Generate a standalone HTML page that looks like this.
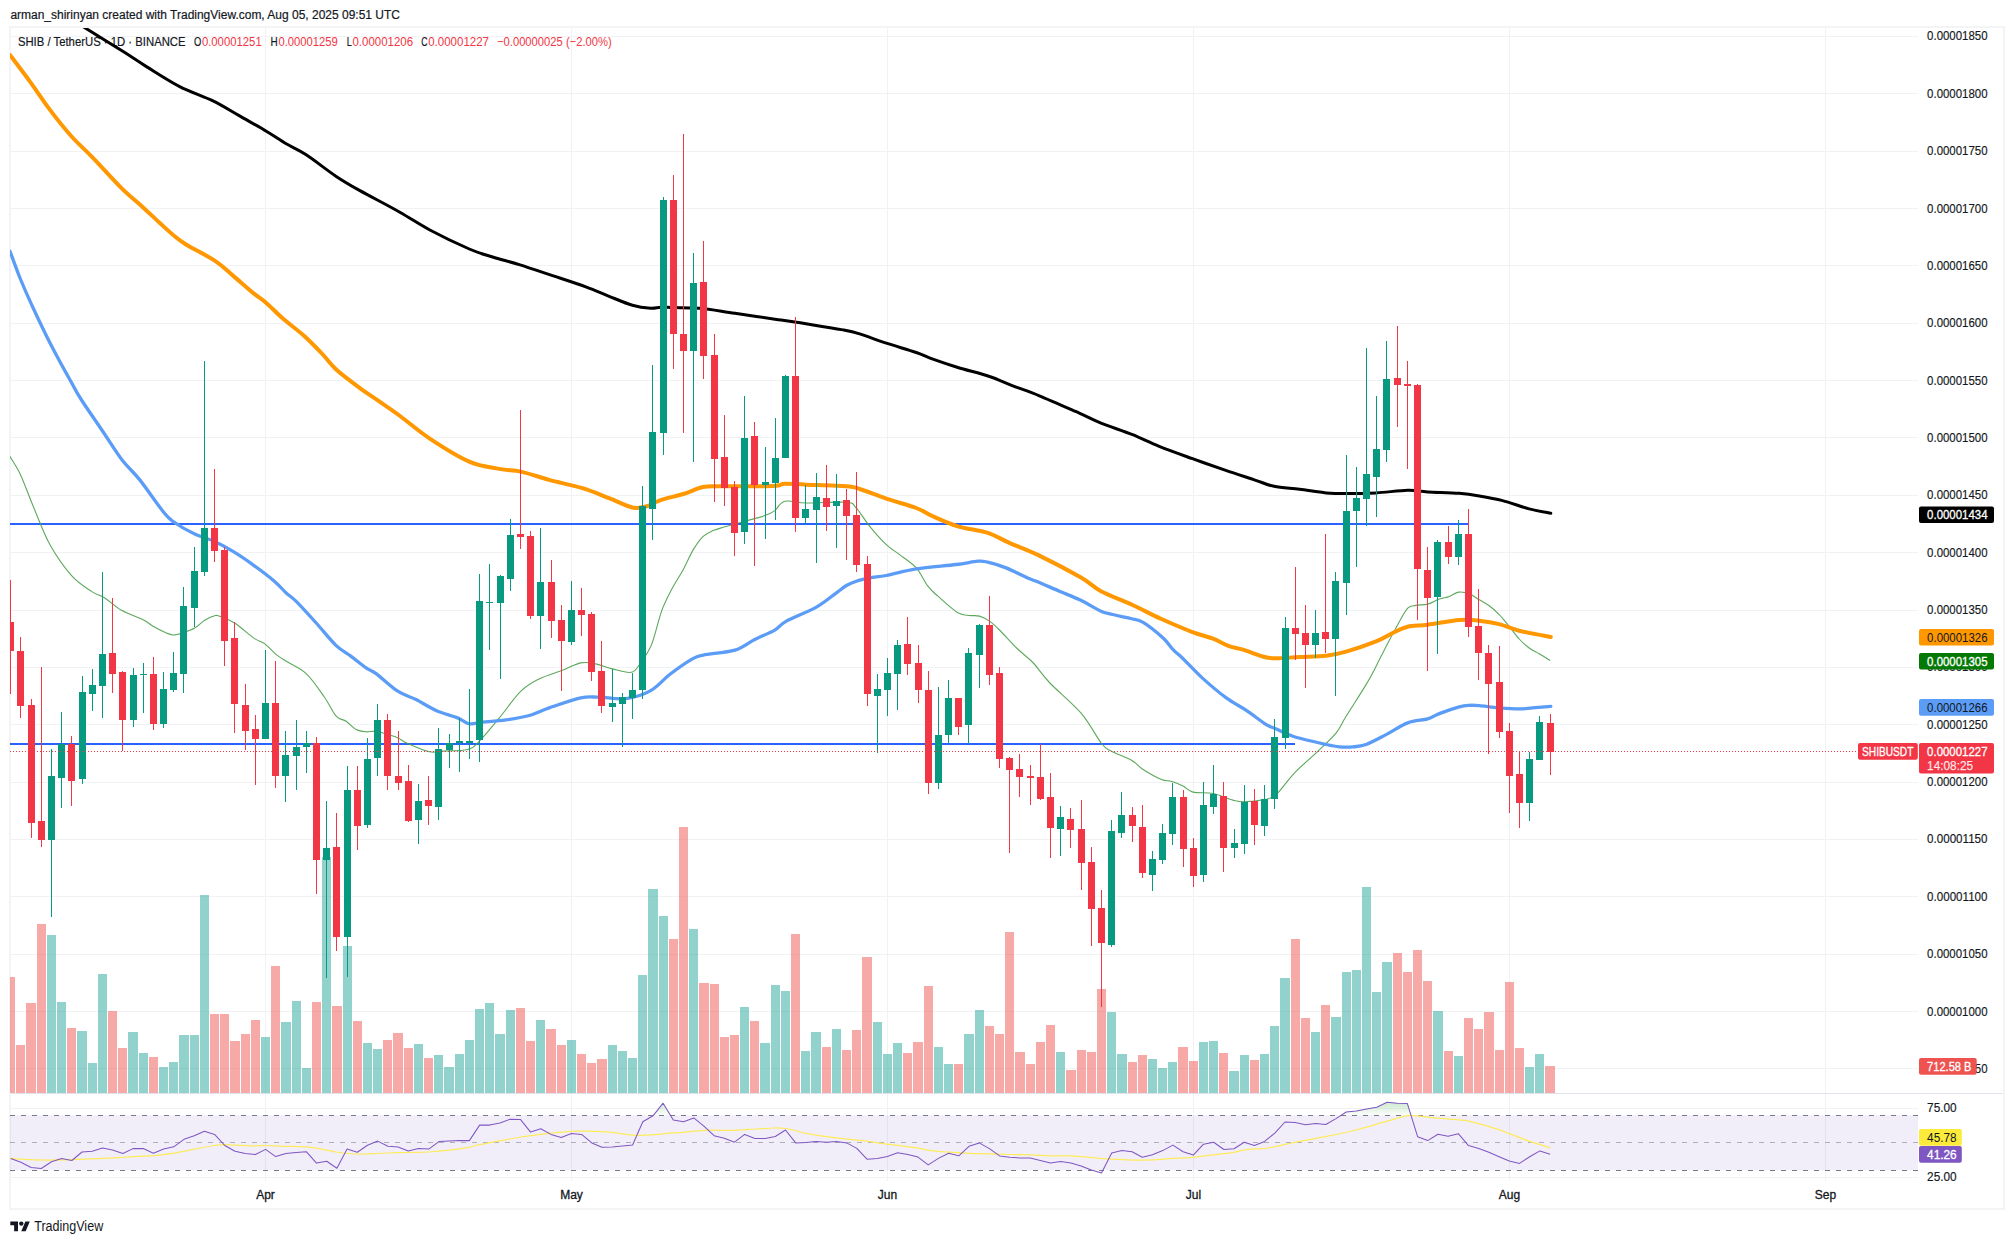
<!DOCTYPE html>
<html><head><meta charset="utf-8"><title>SHIBUSDT chart</title>
<style>html,body{margin:0;padding:0;background:#fff;}body{width:2014px;height:1244px;overflow:hidden;font-family:"Liberation Sans", Arial, sans-serif;}svg{display:block}</style>
</head><body>
<svg width="2014" height="1244" viewBox="0 0 2014 1244" font-family='"Liberation Sans", Arial, sans-serif'>
<rect width="2014" height="1244" fill="#fff"/>
<defs><clipPath id="plot"><rect x="10" y="28" width="1908" height="1065"/></clipPath><linearGradient id="gf" x1="0" y1="1101" x2="0" y2="1115.3" gradientUnits="userSpaceOnUse"><stop offset="0" stop-color="#4caf50" stop-opacity="0.3"/><stop offset="1" stop-color="#4caf50" stop-opacity="0.02"/></linearGradient><clipPath id="rsi"><rect x="10" y="1094" width="1908" height="86"/></clipPath></defs>
<g shape-rendering="crispEdges" fill="#f1f2f4">
<rect x="10" y="36" width="1908" height="1"/>
<rect x="10" y="93" width="1908" height="1"/>
<rect x="10" y="151" width="1908" height="1"/>
<rect x="10" y="208" width="1908" height="1"/>
<rect x="10" y="265" width="1908" height="1"/>
<rect x="10" y="323" width="1908" height="1"/>
<rect x="10" y="380" width="1908" height="1"/>
<rect x="10" y="437" width="1908" height="1"/>
<rect x="10" y="495" width="1908" height="1"/>
<rect x="10" y="552" width="1908" height="1"/>
<rect x="10" y="610" width="1908" height="1"/>
<rect x="10" y="667" width="1908" height="1"/>
<rect x="10" y="724" width="1908" height="1"/>
<rect x="10" y="782" width="1908" height="1"/>
<rect x="10" y="839" width="1908" height="1"/>
<rect x="10" y="896" width="1908" height="1"/>
<rect x="10" y="954" width="1908" height="1"/>
<rect x="10" y="1011" width="1908" height="1"/>
<rect x="10" y="1068" width="1908" height="1"/>
<rect x="10" y="1108" width="1908" height="1"/>
<rect x="10" y="1177" width="1908" height="1"/>
<rect x="265" y="27" width="1" height="1154"/>
<rect x="571" y="27" width="1" height="1154"/>
<rect x="887" y="27" width="1" height="1154"/>
<rect x="1193" y="27" width="1" height="1154"/>
<rect x="1509" y="27" width="1" height="1154"/>
<rect x="1825" y="27" width="1" height="1154"/>
</g>
<g shape-rendering="crispEdges" fill="#f3f4f5">
<rect x="9" y="26" width="1996" height="2"/>
<rect x="9" y="1208" width="1996" height="2"/>
<rect x="9" y="26" width="2" height="1184"/>
<rect x="2003" y="26" width="2" height="1184"/>
<rect x="11" y="1093" width="1992" height="1" fill="#e0e3eb"/>
</g>
<rect x="10" y="1115.3" width="1908" height="55" fill="#7e57c2" fill-opacity="0.1"/>
<g fill="none" stroke-width="1">
<path d="M10 1115.5H1918" stroke="#787b86" stroke-dasharray="5 6"/>
<path d="M10 1142.5H1918" stroke="#787b86" stroke-opacity="0.55" stroke-dasharray="5 6"/>
<path d="M10 1170.5H1918" stroke="#787b86" stroke-dasharray="5 6"/>
</g>
<g shape-rendering="crispEdges" clip-path="url(#plot)">
<rect x="6" y="977" width="9" height="116" fill="#ef5350" fill-opacity="0.5"/>
<rect x="16" y="1045" width="9" height="48" fill="#ef5350" fill-opacity="0.5"/>
<rect x="26" y="1003" width="10" height="90" fill="#ef5350" fill-opacity="0.5"/>
<rect x="37" y="924" width="9" height="169" fill="#ef5350" fill-opacity="0.5"/>
<rect x="47" y="935" width="9" height="158" fill="#26a69a" fill-opacity="0.5"/>
<rect x="57" y="1002" width="9" height="91" fill="#26a69a" fill-opacity="0.5"/>
<rect x="67" y="1028" width="9" height="65" fill="#ef5350" fill-opacity="0.5"/>
<rect x="77" y="1031" width="10" height="62" fill="#26a69a" fill-opacity="0.5"/>
<rect x="88" y="1063" width="9" height="30" fill="#26a69a" fill-opacity="0.5"/>
<rect x="98" y="974" width="9" height="119" fill="#26a69a" fill-opacity="0.5"/>
<rect x="108" y="1011" width="9" height="82" fill="#ef5350" fill-opacity="0.5"/>
<rect x="118" y="1048" width="9" height="45" fill="#ef5350" fill-opacity="0.5"/>
<rect x="128" y="1032" width="10" height="61" fill="#26a69a" fill-opacity="0.5"/>
<rect x="139" y="1053" width="9" height="40" fill="#26a69a" fill-opacity="0.5"/>
<rect x="149" y="1057" width="9" height="36" fill="#ef5350" fill-opacity="0.5"/>
<rect x="159" y="1067" width="9" height="26" fill="#26a69a" fill-opacity="0.5"/>
<rect x="169" y="1062" width="9" height="31" fill="#26a69a" fill-opacity="0.5"/>
<rect x="179" y="1035" width="10" height="58" fill="#26a69a" fill-opacity="0.5"/>
<rect x="190" y="1035" width="9" height="58" fill="#26a69a" fill-opacity="0.5"/>
<rect x="200" y="895" width="9" height="198" fill="#26a69a" fill-opacity="0.5"/>
<rect x="210" y="1014" width="9" height="79" fill="#ef5350" fill-opacity="0.5"/>
<rect x="220" y="1014" width="9" height="79" fill="#ef5350" fill-opacity="0.5"/>
<rect x="230" y="1041" width="10" height="52" fill="#ef5350" fill-opacity="0.5"/>
<rect x="241" y="1034" width="9" height="59" fill="#ef5350" fill-opacity="0.5"/>
<rect x="251" y="1020" width="9" height="73" fill="#ef5350" fill-opacity="0.5"/>
<rect x="261" y="1037" width="9" height="56" fill="#26a69a" fill-opacity="0.5"/>
<rect x="271" y="966" width="9" height="127" fill="#ef5350" fill-opacity="0.5"/>
<rect x="281" y="1022" width="10" height="71" fill="#26a69a" fill-opacity="0.5"/>
<rect x="292" y="1001" width="9" height="92" fill="#26a69a" fill-opacity="0.5"/>
<rect x="302" y="1068" width="9" height="25" fill="#26a69a" fill-opacity="0.5"/>
<rect x="312" y="1002" width="9" height="91" fill="#ef5350" fill-opacity="0.5"/>
<rect x="322" y="857" width="9" height="236" fill="#26a69a" fill-opacity="0.5"/>
<rect x="332" y="1006" width="10" height="87" fill="#ef5350" fill-opacity="0.5"/>
<rect x="343" y="946" width="9" height="147" fill="#26a69a" fill-opacity="0.5"/>
<rect x="353" y="1021" width="9" height="72" fill="#ef5350" fill-opacity="0.5"/>
<rect x="363" y="1043" width="9" height="50" fill="#26a69a" fill-opacity="0.5"/>
<rect x="373" y="1049" width="9" height="44" fill="#26a69a" fill-opacity="0.5"/>
<rect x="383" y="1040" width="9" height="53" fill="#ef5350" fill-opacity="0.5"/>
<rect x="393" y="1033" width="10" height="60" fill="#ef5350" fill-opacity="0.5"/>
<rect x="404" y="1048" width="9" height="45" fill="#ef5350" fill-opacity="0.5"/>
<rect x="414" y="1044" width="9" height="49" fill="#26a69a" fill-opacity="0.5"/>
<rect x="424" y="1058" width="9" height="35" fill="#ef5350" fill-opacity="0.5"/>
<rect x="434" y="1055" width="9" height="38" fill="#26a69a" fill-opacity="0.5"/>
<rect x="444" y="1067" width="10" height="26" fill="#26a69a" fill-opacity="0.5"/>
<rect x="455" y="1054" width="9" height="39" fill="#26a69a" fill-opacity="0.5"/>
<rect x="465" y="1040" width="9" height="53" fill="#26a69a" fill-opacity="0.5"/>
<rect x="475" y="1009" width="9" height="84" fill="#26a69a" fill-opacity="0.5"/>
<rect x="485" y="1003" width="9" height="90" fill="#26a69a" fill-opacity="0.5"/>
<rect x="495" y="1034" width="10" height="59" fill="#26a69a" fill-opacity="0.5"/>
<rect x="506" y="1010" width="9" height="83" fill="#26a69a" fill-opacity="0.5"/>
<rect x="516" y="1008" width="9" height="85" fill="#ef5350" fill-opacity="0.5"/>
<rect x="526" y="1041" width="9" height="52" fill="#ef5350" fill-opacity="0.5"/>
<rect x="536" y="1020" width="9" height="73" fill="#26a69a" fill-opacity="0.5"/>
<rect x="546" y="1029" width="10" height="64" fill="#ef5350" fill-opacity="0.5"/>
<rect x="557" y="1045" width="9" height="48" fill="#ef5350" fill-opacity="0.5"/>
<rect x="567" y="1040" width="9" height="53" fill="#26a69a" fill-opacity="0.5"/>
<rect x="577" y="1054" width="9" height="39" fill="#ef5350" fill-opacity="0.5"/>
<rect x="587" y="1063" width="9" height="30" fill="#ef5350" fill-opacity="0.5"/>
<rect x="597" y="1059" width="10" height="34" fill="#ef5350" fill-opacity="0.5"/>
<rect x="608" y="1045" width="9" height="48" fill="#26a69a" fill-opacity="0.5"/>
<rect x="618" y="1051" width="9" height="42" fill="#26a69a" fill-opacity="0.5"/>
<rect x="628" y="1058" width="9" height="35" fill="#26a69a" fill-opacity="0.5"/>
<rect x="638" y="975" width="9" height="118" fill="#26a69a" fill-opacity="0.5"/>
<rect x="648" y="889" width="10" height="204" fill="#26a69a" fill-opacity="0.5"/>
<rect x="659" y="916" width="9" height="177" fill="#26a69a" fill-opacity="0.5"/>
<rect x="669" y="939" width="9" height="154" fill="#ef5350" fill-opacity="0.5"/>
<rect x="679" y="827" width="9" height="266" fill="#ef5350" fill-opacity="0.5"/>
<rect x="689" y="929" width="9" height="164" fill="#26a69a" fill-opacity="0.5"/>
<rect x="699" y="983" width="10" height="110" fill="#ef5350" fill-opacity="0.5"/>
<rect x="710" y="984" width="9" height="109" fill="#ef5350" fill-opacity="0.5"/>
<rect x="720" y="1037" width="9" height="56" fill="#ef5350" fill-opacity="0.5"/>
<rect x="730" y="1035" width="9" height="58" fill="#ef5350" fill-opacity="0.5"/>
<rect x="740" y="1007" width="9" height="86" fill="#26a69a" fill-opacity="0.5"/>
<rect x="750" y="1021" width="9" height="72" fill="#ef5350" fill-opacity="0.5"/>
<rect x="760" y="1043" width="10" height="50" fill="#26a69a" fill-opacity="0.5"/>
<rect x="771" y="985" width="9" height="108" fill="#26a69a" fill-opacity="0.5"/>
<rect x="781" y="991" width="9" height="102" fill="#26a69a" fill-opacity="0.5"/>
<rect x="791" y="934" width="9" height="159" fill="#ef5350" fill-opacity="0.5"/>
<rect x="801" y="1051" width="9" height="42" fill="#26a69a" fill-opacity="0.5"/>
<rect x="811" y="1032" width="10" height="61" fill="#26a69a" fill-opacity="0.5"/>
<rect x="822" y="1047" width="9" height="46" fill="#ef5350" fill-opacity="0.5"/>
<rect x="832" y="1029" width="9" height="64" fill="#26a69a" fill-opacity="0.5"/>
<rect x="842" y="1050" width="9" height="43" fill="#ef5350" fill-opacity="0.5"/>
<rect x="852" y="1030" width="9" height="63" fill="#ef5350" fill-opacity="0.5"/>
<rect x="862" y="957" width="10" height="136" fill="#ef5350" fill-opacity="0.5"/>
<rect x="873" y="1022" width="9" height="71" fill="#26a69a" fill-opacity="0.5"/>
<rect x="883" y="1054" width="9" height="39" fill="#26a69a" fill-opacity="0.5"/>
<rect x="893" y="1043" width="9" height="50" fill="#26a69a" fill-opacity="0.5"/>
<rect x="903" y="1053" width="9" height="40" fill="#ef5350" fill-opacity="0.5"/>
<rect x="913" y="1042" width="10" height="51" fill="#ef5350" fill-opacity="0.5"/>
<rect x="924" y="986" width="9" height="107" fill="#ef5350" fill-opacity="0.5"/>
<rect x="934" y="1047" width="9" height="46" fill="#26a69a" fill-opacity="0.5"/>
<rect x="944" y="1064" width="9" height="29" fill="#26a69a" fill-opacity="0.5"/>
<rect x="954" y="1064" width="9" height="29" fill="#ef5350" fill-opacity="0.5"/>
<rect x="964" y="1034" width="10" height="59" fill="#26a69a" fill-opacity="0.5"/>
<rect x="975" y="1010" width="9" height="83" fill="#26a69a" fill-opacity="0.5"/>
<rect x="985" y="1026" width="9" height="67" fill="#ef5350" fill-opacity="0.5"/>
<rect x="995" y="1034" width="9" height="59" fill="#ef5350" fill-opacity="0.5"/>
<rect x="1005" y="932" width="9" height="161" fill="#ef5350" fill-opacity="0.5"/>
<rect x="1015" y="1052" width="10" height="41" fill="#ef5350" fill-opacity="0.5"/>
<rect x="1026" y="1064" width="9" height="29" fill="#ef5350" fill-opacity="0.5"/>
<rect x="1036" y="1042" width="9" height="51" fill="#ef5350" fill-opacity="0.5"/>
<rect x="1046" y="1025" width="9" height="68" fill="#ef5350" fill-opacity="0.5"/>
<rect x="1056" y="1052" width="9" height="41" fill="#26a69a" fill-opacity="0.5"/>
<rect x="1066" y="1070" width="10" height="23" fill="#ef5350" fill-opacity="0.5"/>
<rect x="1077" y="1050" width="9" height="43" fill="#ef5350" fill-opacity="0.5"/>
<rect x="1087" y="1052" width="9" height="41" fill="#ef5350" fill-opacity="0.5"/>
<rect x="1097" y="989" width="9" height="104" fill="#ef5350" fill-opacity="0.5"/>
<rect x="1107" y="1012" width="9" height="81" fill="#26a69a" fill-opacity="0.5"/>
<rect x="1117" y="1054" width="10" height="39" fill="#26a69a" fill-opacity="0.5"/>
<rect x="1128" y="1062" width="9" height="31" fill="#ef5350" fill-opacity="0.5"/>
<rect x="1138" y="1055" width="9" height="38" fill="#ef5350" fill-opacity="0.5"/>
<rect x="1148" y="1059" width="9" height="34" fill="#26a69a" fill-opacity="0.5"/>
<rect x="1158" y="1068" width="9" height="25" fill="#26a69a" fill-opacity="0.5"/>
<rect x="1168" y="1062" width="9" height="31" fill="#26a69a" fill-opacity="0.5"/>
<rect x="1178" y="1047" width="10" height="46" fill="#ef5350" fill-opacity="0.5"/>
<rect x="1189" y="1061" width="9" height="32" fill="#ef5350" fill-opacity="0.5"/>
<rect x="1199" y="1042" width="9" height="51" fill="#26a69a" fill-opacity="0.5"/>
<rect x="1209" y="1041" width="9" height="52" fill="#26a69a" fill-opacity="0.5"/>
<rect x="1219" y="1053" width="9" height="40" fill="#ef5350" fill-opacity="0.5"/>
<rect x="1229" y="1071" width="10" height="22" fill="#26a69a" fill-opacity="0.5"/>
<rect x="1240" y="1055" width="9" height="38" fill="#26a69a" fill-opacity="0.5"/>
<rect x="1250" y="1060" width="9" height="33" fill="#ef5350" fill-opacity="0.5"/>
<rect x="1260" y="1054" width="9" height="39" fill="#26a69a" fill-opacity="0.5"/>
<rect x="1270" y="1026" width="9" height="67" fill="#26a69a" fill-opacity="0.5"/>
<rect x="1280" y="978" width="10" height="115" fill="#26a69a" fill-opacity="0.5"/>
<rect x="1291" y="939" width="9" height="154" fill="#ef5350" fill-opacity="0.5"/>
<rect x="1301" y="1018" width="9" height="75" fill="#ef5350" fill-opacity="0.5"/>
<rect x="1311" y="1032" width="9" height="61" fill="#26a69a" fill-opacity="0.5"/>
<rect x="1321" y="1005" width="9" height="88" fill="#ef5350" fill-opacity="0.5"/>
<rect x="1331" y="1017" width="10" height="76" fill="#26a69a" fill-opacity="0.5"/>
<rect x="1342" y="972" width="9" height="121" fill="#26a69a" fill-opacity="0.5"/>
<rect x="1352" y="970" width="9" height="123" fill="#26a69a" fill-opacity="0.5"/>
<rect x="1362" y="887" width="9" height="206" fill="#26a69a" fill-opacity="0.5"/>
<rect x="1372" y="992" width="9" height="101" fill="#26a69a" fill-opacity="0.5"/>
<rect x="1382" y="962" width="10" height="131" fill="#26a69a" fill-opacity="0.5"/>
<rect x="1393" y="953" width="9" height="140" fill="#ef5350" fill-opacity="0.5"/>
<rect x="1403" y="972" width="9" height="121" fill="#ef5350" fill-opacity="0.5"/>
<rect x="1413" y="950" width="9" height="143" fill="#ef5350" fill-opacity="0.5"/>
<rect x="1423" y="981" width="9" height="112" fill="#ef5350" fill-opacity="0.5"/>
<rect x="1433" y="1011" width="10" height="82" fill="#26a69a" fill-opacity="0.5"/>
<rect x="1444" y="1051" width="9" height="42" fill="#ef5350" fill-opacity="0.5"/>
<rect x="1454" y="1056" width="9" height="37" fill="#26a69a" fill-opacity="0.5"/>
<rect x="1464" y="1018" width="9" height="75" fill="#ef5350" fill-opacity="0.5"/>
<rect x="1474" y="1029" width="9" height="64" fill="#ef5350" fill-opacity="0.5"/>
<rect x="1484" y="1012" width="10" height="81" fill="#ef5350" fill-opacity="0.5"/>
<rect x="1495" y="1050" width="9" height="43" fill="#ef5350" fill-opacity="0.5"/>
<rect x="1505" y="982" width="9" height="111" fill="#ef5350" fill-opacity="0.5"/>
<rect x="1515" y="1048" width="9" height="45" fill="#ef5350" fill-opacity="0.5"/>
<rect x="1525" y="1067" width="9" height="26" fill="#26a69a" fill-opacity="0.5"/>
<rect x="1535" y="1054" width="9" height="39" fill="#26a69a" fill-opacity="0.5"/>
<rect x="1545" y="1066" width="10" height="27" fill="#ef5350" fill-opacity="0.5"/>
</g>
<g font-size="12.5" stroke-width="0.2">
<text x="17.9" y="45.9" fill="#131722" stroke="#131722" textLength="167.7" lengthAdjust="spacingAndGlyphs">SHIB / TetherUS · 1D · BINANCE</text>
<text x="194.0" y="45.9" fill="#131722" stroke="#131722" textLength="7.3" lengthAdjust="spacingAndGlyphs">O</text><text x="201.9" y="45.9" fill="#f23645" textLength="59.8" lengthAdjust="spacingAndGlyphs">0.00001251</text>
<text x="270.6" y="45.9" fill="#131722" stroke="#131722" textLength="7.2" lengthAdjust="spacingAndGlyphs">H</text><text x="278.4" y="45.9" fill="#f23645" textLength="59.5" lengthAdjust="spacingAndGlyphs">0.00001259</text>
<text x="346.8" y="45.9" fill="#131722" stroke="#131722" textLength="5.1" lengthAdjust="spacingAndGlyphs">L</text><text x="352.5" y="45.9" fill="#f23645" textLength="60.5" lengthAdjust="spacingAndGlyphs">0.00001206</text>
<text x="421.3" y="45.9" fill="#131722" stroke="#131722" textLength="6.3" lengthAdjust="spacingAndGlyphs">C</text><text x="428.2" y="45.9" fill="#f23645" textLength="60.8" lengthAdjust="spacingAndGlyphs">0.00001227</text>
<text x="497" y="45.9" fill="#f23645" textLength="114.7" lengthAdjust="spacingAndGlyphs">−0.00000025 (−2.00%)</text>
</g>
<g shape-rendering="crispEdges" fill="#2962ff">
<rect x="10" y="523" width="1458" height="2"/>
<rect x="10" y="743" width="1285" height="2"/>
</g>
<g fill="none" stroke-linejoin="round" stroke-linecap="round" clip-path="url(#plot)">
<path d="M10.0 456.6 C11.8 459.7 16.7 466.6 20.6 474.9 C24.5 483.2 28.4 494.9 33.3 506.5 C38.2 518.1 43.6 533.3 50.0 544.8 C56.4 556.3 64.7 567.9 71.6 575.7 C78.5 583.5 86.0 587.7 91.5 591.4 C97.0 595.1 99.8 594.9 104.8 598.0 C109.8 601.1 115.1 606.7 121.5 610.3 C127.9 613.9 137.8 617.0 143.1 619.7 C148.4 622.4 149.5 624.2 153.1 626.3 C156.7 628.4 161.5 630.8 164.8 632.3 C168.1 633.8 170.2 634.9 173.1 635.0 C176.0 635.1 178.8 634.2 182.4 633.0 C186.0 631.8 191.0 630.1 194.7 628.0 C198.4 625.9 201.4 622.3 204.7 620.3 C208.0 618.2 212.2 616.4 214.7 615.7 C217.2 615.0 216.4 615.1 219.7 616.3 C223.0 617.5 228.8 619.3 234.6 623.0 C240.4 626.7 249.6 635.2 254.6 638.6 C259.6 642.0 261.0 640.9 264.6 643.6 C268.2 646.3 272.7 651.7 276.3 654.6 C279.9 657.5 281.2 658.1 286.2 661.3 C291.2 664.5 299.8 667.6 306.2 673.6 C312.6 679.6 319.5 690.1 324.5 697.2 C329.5 704.3 332.6 712.2 336.2 716.2 C339.8 720.2 342.8 719.0 346.1 721.2 C349.4 723.4 352.8 727.7 356.1 729.5 C359.4 731.3 362.8 731.5 366.1 731.8 C369.4 732.1 372.5 730.8 376.1 731.2 C379.7 731.7 384.2 733.4 387.8 734.5 C391.4 735.6 394.4 736.3 397.7 737.8 C401.0 739.3 402.4 741.2 407.7 743.5 C413.0 745.8 423.6 750.5 429.4 751.8 C435.2 753.1 436.3 751.5 442.7 751.1 C449.1 750.7 461.5 751.1 467.6 749.5 C473.7 747.9 474.0 746.5 479.3 741.2 C484.6 735.9 492.4 726.2 499.3 717.9 C506.2 709.6 514.2 697.7 520.9 691.2 C527.5 684.7 532.3 682.4 539.2 678.9 C546.1 675.4 555.6 673.0 562.5 670.3 C569.4 667.6 575.2 664.0 580.8 662.9 C586.3 661.8 590.5 662.9 595.8 663.9 C601.1 664.9 606.5 667.5 612.4 668.9 C618.3 670.3 626.7 673.3 631.4 672.3 C636.1 671.3 637.3 667.4 640.7 662.8 C644.1 658.1 648.1 653.0 651.6 644.4 C655.1 635.8 658.3 620.2 661.6 611.1 C664.9 602.0 668.0 596.4 671.6 589.5 C675.2 582.6 679.7 576.1 683.3 569.5 C686.9 562.9 690.0 555.1 693.3 549.6 C696.6 544.1 699.9 539.5 703.2 536.3 C706.5 533.1 709.9 532.1 713.2 530.6 C716.5 529.1 717.9 528.8 723.2 527.3 C728.5 525.8 737.9 523.2 744.8 521.3 C751.7 519.3 759.8 517.4 764.8 515.6 C769.8 513.8 771.5 513.0 774.8 510.6 C778.1 508.2 779.5 502.6 784.8 501.3 C790.1 500.0 796.1 502.8 806.4 503.0 C816.7 503.2 838.1 501.5 846.4 502.3 C854.7 503.1 852.4 504.0 856.3 508.0 C860.2 512.0 864.7 520.2 869.7 526.3 C874.7 532.4 881.3 539.9 886.3 544.6 C891.3 549.3 894.6 550.7 899.6 554.6 C904.6 558.5 911.6 562.6 916.3 567.9 C921.0 573.2 924.3 581.5 927.9 586.2 C931.5 590.9 932.9 591.8 937.9 596.2 C942.9 600.6 952.6 609.6 957.9 612.8 C963.2 616.0 965.9 615.0 969.5 615.5 C973.1 616.0 976.2 615.2 979.5 616.1 C982.8 617.0 986.2 618.8 989.5 621.1 C992.8 623.4 995.0 625.5 999.5 630.0 C1004.0 634.5 1011.0 642.5 1016.6 648.0 C1022.2 653.5 1027.8 657.2 1033.3 663.0 C1038.8 668.8 1041.9 674.6 1049.9 683.0 C1057.9 691.4 1072.9 703.5 1081.5 713.6 C1090.1 723.7 1096.5 737.2 1101.5 743.5 C1106.5 749.8 1106.5 748.4 1111.5 751.2 C1116.5 754.0 1126.2 757.2 1131.5 760.2 C1136.8 763.2 1138.1 766.3 1143.1 769.5 C1148.1 772.7 1156.7 777.5 1161.4 779.5 C1166.1 781.5 1167.8 780.1 1171.4 781.2 C1175.0 782.3 1179.5 784.3 1183.1 786.1 C1186.7 787.9 1188.0 790.9 1193.0 792.1 C1198.0 793.3 1206.3 792.2 1213.0 793.5 C1219.7 794.8 1227.7 798.7 1233.0 800.1 C1238.3 801.5 1239.3 801.9 1244.6 801.8 C1249.9 801.7 1259.3 800.7 1264.6 799.5 C1269.9 798.3 1271.3 799.0 1276.3 794.5 C1281.3 790.0 1287.9 779.7 1294.6 772.8 C1301.2 765.9 1309.3 759.5 1316.2 752.9 C1323.1 746.2 1331.2 739.0 1336.2 732.9 C1341.2 726.8 1341.1 724.3 1346.1 716.3 C1351.1 708.2 1361.1 692.9 1366.1 684.6 C1371.1 676.3 1372.8 672.7 1376.1 666.3 C1379.4 659.9 1382.5 653.3 1386.1 646.4 C1389.7 639.5 1394.1 631.1 1397.7 624.7 C1401.3 618.3 1404.7 611.3 1407.7 608.1 C1410.8 604.9 1412.7 606.1 1416.0 605.4 C1419.3 604.7 1423.8 605.1 1427.7 604.1 C1431.6 603.1 1435.7 600.4 1439.3 599.1 C1442.9 597.8 1446.1 597.6 1449.3 596.4 C1452.5 595.2 1455.3 592.5 1458.6 592.1 C1461.9 591.7 1465.8 592.5 1469.3 593.8 C1472.8 595.1 1476.0 597.8 1479.3 599.8 C1482.6 601.8 1486.0 603.3 1489.3 605.8 C1492.6 608.3 1495.9 611.3 1499.2 614.7 C1502.5 618.1 1505.9 622.4 1509.2 626.4 C1512.5 630.4 1515.9 635.4 1519.2 639.0 C1522.5 642.6 1525.9 645.5 1529.2 648.0 C1532.5 650.5 1535.8 651.7 1539.2 653.7 C1542.6 655.8 1548.0 659.2 1549.8 660.3" stroke="#4a9e4a" stroke-width="1.1" stroke-opacity="0.9"/>
<path d="M10.0 251.3 C11.7 255.8 16.4 269.1 20.0 278.0 C23.6 286.9 26.6 293.8 31.6 304.6 C36.6 315.4 43.3 329.9 50.0 342.9 C56.7 355.9 66.3 373.3 71.6 382.8 C76.8 392.3 76.2 391.8 81.5 400.0 C86.8 408.2 96.5 422.1 103.2 432.0 C109.9 441.9 115.4 451.2 121.5 459.2 C127.6 467.2 132.9 471.2 139.8 479.9 C146.7 488.6 157.6 504.6 163.1 511.5 C168.6 518.4 167.8 517.7 173.1 521.5 C178.4 525.3 188.0 530.9 194.7 534.1 C201.3 537.3 206.6 537.9 213.0 540.8 C219.4 543.7 226.3 547.4 233.0 551.4 C239.7 555.4 246.1 559.8 253.0 564.8 C259.9 569.8 269.1 576.7 274.6 581.4 C280.1 586.1 282.6 589.7 286.2 593.0 C289.8 596.3 291.2 596.4 296.2 601.4 C301.2 606.4 309.5 615.6 316.2 623.0 C322.9 630.4 330.4 640.1 336.2 645.6 C342.0 651.1 346.1 652.6 351.1 656.3 C356.1 660.0 361.9 665.0 366.1 667.9 C370.3 670.8 370.8 669.7 376.1 673.6 C381.4 677.5 391.1 686.9 397.7 691.2 C404.3 695.5 409.6 696.3 416.0 699.5 C422.4 702.7 429.1 707.4 436.0 710.5 C442.9 713.6 452.1 715.7 457.6 717.9 C463.2 720.1 465.1 723.1 469.3 723.8 C473.5 724.5 476.5 722.9 482.6 722.2 C488.7 721.6 498.1 721.0 505.9 719.9 C513.7 718.8 522.0 717.5 529.2 715.5 C536.4 713.5 540.6 710.8 549.2 707.9 C557.8 705.0 572.5 699.7 580.8 697.9 C589.1 696.1 591.6 697.1 599.1 697.2 C606.6 697.3 617.1 699.7 625.7 698.6 C634.3 697.5 643.3 694.7 650.7 690.6 C658.1 686.5 663.2 679.5 670.0 674.3 C676.8 669.1 686.1 662.6 691.6 659.4 C697.1 656.2 696.0 656.6 703.2 655.1 C710.4 653.6 726.3 652.7 734.9 650.1 C743.5 647.5 748.1 642.7 754.8 639.4 C761.4 636.1 769.5 633.1 774.8 630.1 C780.1 627.1 779.5 624.9 786.4 621.1 C793.3 617.3 808.1 611.8 816.4 607.1 C824.7 602.4 831.4 596.4 836.4 592.8 C841.4 589.2 843.1 587.4 846.4 585.5 C849.7 583.6 852.4 582.5 856.3 581.2 C860.2 579.9 864.7 578.9 869.7 577.9 C874.7 576.9 878.5 577.0 886.3 575.5 C894.1 574.0 904.6 570.7 916.3 568.9 C927.9 567.1 946.0 565.8 956.2 564.5 C966.5 563.2 972.5 561.6 977.8 561.2 C983.1 560.8 983.1 561.1 987.8 562.2 C992.5 563.3 999.5 565.3 1006.1 567.9 C1012.8 570.5 1022.2 575.5 1027.7 577.9 C1033.2 580.3 1034.1 580.3 1039.4 582.5 C1044.7 584.7 1052.8 588.4 1059.4 591.2 C1066.1 594.1 1072.4 596.3 1079.3 599.6 C1086.2 602.9 1095.5 608.7 1101.0 611.2 C1106.5 613.7 1107.6 613.3 1112.6 614.5 C1117.6 615.7 1125.8 617.2 1130.9 618.5 C1136.0 619.8 1137.7 619.1 1143.1 622.4 C1148.5 625.6 1158.1 633.5 1163.1 638.0 C1168.1 642.5 1169.8 646.2 1173.1 649.7 C1176.4 653.2 1178.1 653.9 1183.1 658.7 C1188.1 663.5 1195.8 672.1 1203.0 678.6 C1210.2 685.1 1219.1 692.6 1226.3 697.9 C1233.5 703.2 1239.6 705.8 1246.3 710.3 C1253.0 714.8 1261.3 721.5 1266.3 724.6 C1271.3 727.7 1271.9 727.0 1276.3 728.9 C1280.7 730.8 1284.6 733.6 1292.9 736.2 C1301.2 738.8 1318.4 742.7 1326.2 744.5 C1334.0 746.3 1335.1 746.5 1339.5 746.9 C1343.9 747.3 1348.4 747.3 1352.8 746.9 C1357.2 746.5 1360.5 746.5 1366.1 744.5 C1371.6 742.5 1379.2 738.2 1386.1 734.6 C1393.0 731.0 1400.8 725.5 1407.7 722.9 C1414.6 720.3 1422.4 720.4 1427.7 718.9 C1433.0 717.4 1434.0 715.6 1439.3 713.6 C1444.6 711.6 1454.3 708.3 1459.3 706.9 C1464.3 705.5 1466.0 705.5 1469.3 705.3 C1472.6 705.1 1474.3 705.2 1479.3 705.6 C1484.3 706.0 1492.5 707.4 1499.2 707.9 C1505.9 708.4 1513.7 708.9 1519.2 708.9 C1524.8 708.9 1527.2 708.3 1532.5 707.9 C1537.8 707.5 1547.8 706.6 1550.8 706.3" stroke="#5b9cf6" stroke-width="3.3"/>
<path d="M10.0 55.0 C13.3 59.4 23.3 72.4 30.0 81.6 C36.7 90.8 43.1 100.8 50.0 109.9 C56.9 119.1 64.4 128.5 71.6 136.5 C78.8 144.5 84.9 149.5 93.2 158.1 C101.5 166.7 113.2 179.9 121.5 188.1 C129.8 196.3 136.7 201.6 143.1 207.4 C149.5 213.2 154.5 218.2 159.8 223.0 C165.1 227.8 170.3 232.7 174.7 236.3 C179.1 239.9 179.7 240.6 186.4 244.7 C193.1 248.8 206.9 255.5 214.7 260.6 C222.5 265.8 226.6 270.2 233.0 275.6 C239.4 281.0 247.4 288.3 253.0 292.9 C258.6 297.4 261.3 298.6 266.3 302.9 C271.3 307.2 276.5 313.1 282.9 318.6 C289.3 324.2 297.9 330.2 304.5 336.2 C311.1 342.2 317.5 348.9 322.8 354.5 C328.1 360.1 330.1 363.9 336.2 369.5 C342.3 375.1 352.6 382.7 359.5 387.8 C366.4 392.9 371.2 395.8 377.8 400.4 C384.4 405.0 390.8 409.2 399.4 415.5 C408.0 421.8 417.8 430.6 429.4 438.3 C441.0 446.0 457.6 456.5 469.3 461.6 C481.0 466.7 490.7 467.2 499.3 468.9 C507.9 470.6 512.6 469.8 520.9 471.6 C529.2 473.4 538.9 477.1 549.2 479.9 C559.5 482.7 572.5 485.1 582.5 488.2 C592.5 491.2 600.8 495.0 609.1 498.2 C617.4 501.4 626.1 506.1 632.4 507.5 C638.7 508.9 642.1 507.5 646.7 506.3 C651.3 505.1 653.9 502.4 660.0 500.3 C666.1 498.2 676.1 496.2 683.3 494.0 C690.5 491.8 696.6 488.3 703.2 487.0 C709.9 485.7 711.6 486.5 723.2 486.3 C734.9 486.1 762.8 486.4 773.1 486.0 C783.4 485.6 779.2 483.9 784.8 483.7 C790.3 483.5 796.1 484.3 806.4 484.7 C816.7 485.1 837.5 485.6 846.4 486.3 C855.3 487.0 853.1 486.9 859.7 489.0 C866.4 491.1 876.9 495.4 886.3 498.6 C895.7 501.8 908.5 505.1 916.3 508.0 C924.1 510.9 926.0 513.2 932.9 516.3 C939.8 519.3 948.8 523.5 957.9 526.3 C967.0 529.1 979.2 530.1 987.8 532.9 C996.4 535.7 1000.8 539.1 1009.4 542.9 C1018.0 546.7 1027.5 549.8 1039.4 555.6 C1051.3 561.4 1070.7 571.6 1081.0 577.5 C1091.3 583.4 1092.4 586.6 1101.0 591.2 C1109.6 595.8 1122.6 600.4 1132.6 605.0 C1142.6 609.6 1150.9 614.3 1160.9 618.8 C1170.9 623.3 1183.8 628.8 1192.5 632.1 C1201.2 635.4 1206.9 636.4 1213.0 638.7 C1219.1 641.0 1224.1 644.3 1229.1 646.1 C1234.1 647.9 1237.1 647.9 1243.0 649.7 C1248.9 651.5 1259.0 655.6 1264.6 657.0 C1270.1 658.4 1270.5 658.3 1276.3 658.3 C1282.1 658.3 1291.3 657.4 1299.6 657.0 C1307.9 656.6 1318.5 656.6 1326.2 655.7 C1334.0 654.8 1337.8 654.1 1346.1 651.7 C1354.4 649.3 1368.3 644.5 1376.1 641.4 C1383.9 638.3 1387.4 635.5 1392.7 633.0 C1398.0 630.5 1401.9 628.1 1407.7 626.7 C1413.5 625.3 1419.1 625.8 1427.7 624.7 C1436.3 623.6 1450.7 620.8 1459.3 620.1 C1467.9 619.4 1472.6 620.0 1479.3 620.7 C1486.0 621.4 1492.5 622.4 1499.2 624.1 C1505.9 625.8 1510.6 628.6 1519.2 630.7 C1527.8 632.9 1545.5 636.0 1550.8 637.0" stroke="#ff9800" stroke-width="4"/>
<path d="M83.2 26.7 C89.9 30.9 112.7 45.0 123.2 51.6 C133.7 58.2 137.0 60.8 146.4 66.6 C155.8 72.4 168.6 80.9 179.7 86.6 C190.8 92.3 203.0 96.0 213.0 100.9 C223.0 105.8 230.7 110.9 239.6 115.9 C248.5 121.0 258.5 126.5 266.3 131.2 C274.1 135.8 279.6 139.9 286.2 143.8 C292.8 147.7 297.9 149.4 306.2 154.8 C314.5 160.2 327.3 170.5 336.2 176.4 C345.1 182.3 349.0 184.5 359.5 190.4 C370.0 196.3 387.8 205.4 399.4 212.0 C411.0 218.6 417.8 223.5 429.4 229.7 C441.0 235.9 458.8 244.4 469.3 249.0 C479.8 253.6 484.3 254.4 492.6 257.0 C500.9 259.6 509.2 261.5 519.2 264.6 C529.2 267.7 541.4 271.9 552.5 275.6 C563.6 279.3 576.4 283.4 585.8 286.9 C595.2 290.3 601.3 293.2 609.1 296.3 C616.9 299.4 625.5 303.2 632.4 305.2 C639.3 307.2 646.0 307.9 650.7 308.2 C655.4 308.5 656.9 307.3 660.7 307.2 C664.5 307.1 666.8 307.4 673.3 307.6 C679.8 307.8 689.6 307.4 699.9 308.3 C710.2 309.2 722.1 311.5 734.9 313.3 C747.7 315.1 763.5 317.5 776.5 319.4 C789.5 321.3 802.0 323.1 813.1 324.9 C824.2 326.6 835.2 328.4 843.0 329.9 C850.8 331.4 852.5 331.7 859.7 333.9 C866.9 336.1 876.9 340.1 886.3 343.2 C895.7 346.3 908.5 349.8 916.3 352.5 C924.1 355.2 926.0 356.7 932.9 359.2 C939.8 361.7 948.5 364.6 957.9 367.5 C967.3 370.4 980.4 373.4 989.5 376.5 C998.6 379.6 1004.5 382.6 1012.8 385.8 C1021.1 389.0 1028.3 391.2 1039.4 395.8 C1050.5 400.4 1069.0 408.6 1079.3 413.1 C1089.6 417.7 1092.1 419.5 1101.0 423.1 C1109.9 426.7 1122.9 430.8 1132.6 434.7 C1142.3 438.6 1149.2 442.4 1159.2 446.4 C1169.2 450.4 1181.4 454.7 1192.5 458.7 C1203.6 462.7 1215.3 466.8 1225.8 470.4 C1236.3 474.0 1247.7 477.6 1255.7 480.3 C1263.7 483.0 1266.7 484.8 1274.0 486.3 C1281.3 487.8 1290.9 488.2 1299.6 489.3 C1308.3 490.4 1318.5 492.2 1326.2 492.9 C1334.0 493.6 1337.8 493.6 1346.1 493.6 C1354.4 493.6 1365.8 493.4 1376.1 492.9 C1386.4 492.3 1399.1 490.5 1407.7 490.3 C1416.3 490.1 1419.1 491.4 1427.7 491.9 C1436.3 492.4 1450.7 492.6 1459.3 493.3 C1467.9 494.0 1472.1 494.7 1479.3 495.9 C1486.5 497.1 1494.3 498.4 1502.6 500.6 C1510.9 502.8 1521.2 506.8 1529.2 508.9 C1537.2 511.0 1547.2 512.5 1550.8 513.2" stroke="#000" stroke-width="3"/>
</g>
<g shape-rendering="crispEdges" clip-path="url(#plot)">
<rect x="10" y="580" width="1" height="114" fill="#f23645"/><rect x="7" y="622" width="7" height="29" fill="#f23645"/>
<rect x="20" y="637" width="1" height="81" fill="#f23645"/><rect x="17" y="651" width="7" height="55" fill="#f23645"/>
<rect x="31" y="699" width="1" height="139" fill="#f23645"/><rect x="28" y="705" width="7" height="118" fill="#f23645"/>
<rect x="41" y="667" width="1" height="180" fill="#f23645"/><rect x="38" y="821" width="7" height="19" fill="#f23645"/>
<rect x="51" y="749" width="1" height="168" fill="#089981"/><rect x="48" y="776" width="7" height="64" fill="#089981"/>
<rect x="61" y="712" width="1" height="96" fill="#089981"/><rect x="58" y="744" width="7" height="34" fill="#089981"/>
<rect x="71" y="736" width="1" height="70" fill="#f23645"/><rect x="68" y="744" width="7" height="37" fill="#f23645"/>
<rect x="82" y="676" width="1" height="108" fill="#089981"/><rect x="79" y="692" width="7" height="87" fill="#089981"/>
<rect x="92" y="669" width="1" height="42" fill="#089981"/><rect x="89" y="685" width="7" height="9" fill="#089981"/>
<rect x="102" y="572" width="1" height="146" fill="#089981"/><rect x="99" y="654" width="7" height="32" fill="#089981"/>
<rect x="112" y="598" width="1" height="95" fill="#f23645"/><rect x="109" y="653" width="7" height="21" fill="#f23645"/>
<rect x="122" y="671" width="1" height="80" fill="#f23645"/><rect x="119" y="672" width="7" height="48" fill="#f23645"/>
<rect x="133" y="668" width="1" height="59" fill="#089981"/><rect x="130" y="675" width="7" height="45" fill="#089981"/>
<rect x="143" y="663" width="1" height="50" fill="#089981"/><rect x="140" y="674" width="7" height="1" fill="#089981"/>
<rect x="153" y="657" width="1" height="73" fill="#f23645"/><rect x="150" y="674" width="7" height="50" fill="#f23645"/>
<rect x="163" y="672" width="1" height="56" fill="#089981"/><rect x="160" y="689" width="7" height="35" fill="#089981"/>
<rect x="173" y="652" width="1" height="40" fill="#089981"/><rect x="170" y="673" width="7" height="17" fill="#089981"/>
<rect x="183" y="587" width="1" height="106" fill="#089981"/><rect x="180" y="606" width="7" height="68" fill="#089981"/>
<rect x="194" y="547" width="1" height="80" fill="#089981"/><rect x="191" y="571" width="7" height="37" fill="#089981"/>
<rect x="204" y="361" width="1" height="215" fill="#089981"/><rect x="201" y="528" width="7" height="44" fill="#089981"/>
<rect x="214" y="469" width="1" height="93" fill="#f23645"/><rect x="211" y="528" width="7" height="23" fill="#f23645"/>
<rect x="224" y="547" width="1" height="119" fill="#f23645"/><rect x="221" y="550" width="7" height="91" fill="#f23645"/>
<rect x="234" y="622" width="1" height="111" fill="#f23645"/><rect x="231" y="638" width="7" height="66" fill="#f23645"/>
<rect x="245" y="684" width="1" height="66" fill="#f23645"/><rect x="242" y="705" width="7" height="26" fill="#f23645"/>
<rect x="255" y="715" width="1" height="70" fill="#f23645"/><rect x="252" y="729" width="7" height="10" fill="#f23645"/>
<rect x="265" y="650" width="1" height="89" fill="#089981"/><rect x="262" y="703" width="7" height="36" fill="#089981"/>
<rect x="275" y="661" width="1" height="127" fill="#f23645"/><rect x="272" y="703" width="7" height="73" fill="#f23645"/>
<rect x="285" y="731" width="1" height="71" fill="#089981"/><rect x="282" y="755" width="7" height="21" fill="#089981"/>
<rect x="296" y="720" width="1" height="70" fill="#089981"/><rect x="293" y="747" width="7" height="9" fill="#089981"/>
<rect x="306" y="731" width="1" height="42" fill="#089981"/><rect x="303" y="743" width="7" height="4" fill="#089981"/>
<rect x="316" y="737" width="1" height="157" fill="#f23645"/><rect x="313" y="743" width="7" height="117" fill="#f23645"/>
<rect x="326" y="801" width="1" height="177" fill="#089981"/><rect x="323" y="848" width="7" height="12" fill="#089981"/>
<rect x="336" y="813" width="1" height="138" fill="#f23645"/><rect x="333" y="847" width="7" height="90" fill="#f23645"/>
<rect x="347" y="766" width="1" height="211" fill="#089981"/><rect x="344" y="790" width="7" height="147" fill="#089981"/>
<rect x="357" y="766" width="1" height="84" fill="#f23645"/><rect x="354" y="790" width="7" height="36" fill="#f23645"/>
<rect x="367" y="738" width="1" height="90" fill="#089981"/><rect x="364" y="759" width="7" height="66" fill="#089981"/>
<rect x="377" y="704" width="1" height="72" fill="#089981"/><rect x="374" y="720" width="7" height="38" fill="#089981"/>
<rect x="387" y="714" width="1" height="76" fill="#f23645"/><rect x="384" y="720" width="7" height="56" fill="#f23645"/>
<rect x="398" y="731" width="1" height="59" fill="#f23645"/><rect x="395" y="776" width="7" height="7" fill="#f23645"/>
<rect x="408" y="765" width="1" height="57" fill="#f23645"/><rect x="405" y="781" width="7" height="40" fill="#f23645"/>
<rect x="418" y="784" width="1" height="60" fill="#089981"/><rect x="415" y="801" width="7" height="19" fill="#089981"/>
<rect x="428" y="776" width="1" height="49" fill="#f23645"/><rect x="425" y="800" width="7" height="6" fill="#f23645"/>
<rect x="438" y="728" width="1" height="92" fill="#089981"/><rect x="435" y="749" width="7" height="58" fill="#089981"/>
<rect x="449" y="734" width="1" height="34" fill="#089981"/><rect x="446" y="743" width="7" height="7" fill="#089981"/>
<rect x="459" y="718" width="1" height="54" fill="#089981"/><rect x="456" y="741" width="7" height="2" fill="#089981"/>
<rect x="469" y="689" width="1" height="70" fill="#089981"/><rect x="466" y="741" width="7" height="2" fill="#089981"/>
<rect x="479" y="574" width="1" height="188" fill="#089981"/><rect x="476" y="601" width="7" height="139" fill="#089981"/>
<rect x="489" y="564" width="1" height="86" fill="#089981"/><rect x="486" y="602" width="7" height="1" fill="#089981"/>
<rect x="500" y="575" width="1" height="104" fill="#089981"/><rect x="497" y="576" width="7" height="27" fill="#089981"/>
<rect x="510" y="519" width="1" height="72" fill="#089981"/><rect x="507" y="535" width="7" height="44" fill="#089981"/>
<rect x="520" y="410" width="1" height="139" fill="#f23645"/><rect x="517" y="534" width="7" height="3" fill="#f23645"/>
<rect x="530" y="531" width="1" height="88" fill="#f23645"/><rect x="527" y="536" width="7" height="80" fill="#f23645"/>
<rect x="540" y="528" width="1" height="121" fill="#089981"/><rect x="537" y="582" width="7" height="34" fill="#089981"/>
<rect x="551" y="560" width="1" height="78" fill="#f23645"/><rect x="548" y="582" width="7" height="39" fill="#f23645"/>
<rect x="561" y="605" width="1" height="86" fill="#f23645"/><rect x="558" y="620" width="7" height="21" fill="#f23645"/>
<rect x="571" y="581" width="1" height="64" fill="#089981"/><rect x="568" y="610" width="7" height="32" fill="#089981"/>
<rect x="581" y="588" width="1" height="48" fill="#f23645"/><rect x="578" y="610" width="7" height="5" fill="#f23645"/>
<rect x="591" y="612" width="1" height="69" fill="#f23645"/><rect x="588" y="614" width="7" height="58" fill="#f23645"/>
<rect x="601" y="641" width="1" height="72" fill="#f23645"/><rect x="598" y="671" width="7" height="35" fill="#f23645"/>
<rect x="612" y="669" width="1" height="53" fill="#089981"/><rect x="609" y="703" width="7" height="4" fill="#089981"/>
<rect x="622" y="693" width="1" height="54" fill="#089981"/><rect x="619" y="697" width="7" height="7" fill="#089981"/>
<rect x="632" y="673" width="1" height="46" fill="#089981"/><rect x="629" y="690" width="7" height="8" fill="#089981"/>
<rect x="642" y="486" width="1" height="213" fill="#089981"/><rect x="639" y="506" width="7" height="184" fill="#089981"/>
<rect x="652" y="365" width="1" height="175" fill="#089981"/><rect x="649" y="432" width="7" height="77" fill="#089981"/>
<rect x="663" y="197" width="1" height="258" fill="#089981"/><rect x="660" y="200" width="7" height="233" fill="#089981"/>
<rect x="673" y="175" width="1" height="194" fill="#f23645"/><rect x="670" y="200" width="7" height="134" fill="#f23645"/>
<rect x="683" y="134" width="1" height="299" fill="#f23645"/><rect x="680" y="334" width="7" height="17" fill="#f23645"/>
<rect x="693" y="253" width="1" height="209" fill="#089981"/><rect x="690" y="283" width="7" height="68" fill="#089981"/>
<rect x="703" y="241" width="1" height="138" fill="#f23645"/><rect x="700" y="282" width="7" height="74" fill="#f23645"/>
<rect x="714" y="334" width="1" height="168" fill="#f23645"/><rect x="711" y="355" width="7" height="104" fill="#f23645"/>
<rect x="724" y="415" width="1" height="91" fill="#f23645"/><rect x="721" y="457" width="7" height="31" fill="#f23645"/>
<rect x="734" y="481" width="1" height="75" fill="#f23645"/><rect x="731" y="487" width="7" height="46" fill="#f23645"/>
<rect x="744" y="396" width="1" height="148" fill="#089981"/><rect x="741" y="438" width="7" height="94" fill="#089981"/>
<rect x="754" y="422" width="1" height="144" fill="#f23645"/><rect x="751" y="436" width="7" height="49" fill="#f23645"/>
<rect x="765" y="447" width="1" height="92" fill="#089981"/><rect x="762" y="482" width="7" height="3" fill="#089981"/>
<rect x="775" y="418" width="1" height="102" fill="#089981"/><rect x="772" y="458" width="7" height="25" fill="#089981"/>
<rect x="785" y="375" width="1" height="83" fill="#089981"/><rect x="782" y="376" width="7" height="82" fill="#089981"/>
<rect x="795" y="317" width="1" height="215" fill="#f23645"/><rect x="792" y="376" width="7" height="142" fill="#f23645"/>
<rect x="805" y="485" width="1" height="40" fill="#089981"/><rect x="802" y="509" width="7" height="9" fill="#089981"/>
<rect x="816" y="473" width="1" height="90" fill="#089981"/><rect x="813" y="497" width="7" height="13" fill="#089981"/>
<rect x="826" y="465" width="1" height="66" fill="#f23645"/><rect x="823" y="498" width="7" height="9" fill="#f23645"/>
<rect x="836" y="474" width="1" height="74" fill="#089981"/><rect x="833" y="501" width="7" height="5" fill="#089981"/>
<rect x="846" y="489" width="1" height="71" fill="#f23645"/><rect x="843" y="500" width="7" height="16" fill="#f23645"/>
<rect x="856" y="472" width="1" height="100" fill="#f23645"/><rect x="853" y="515" width="7" height="50" fill="#f23645"/>
<rect x="867" y="556" width="1" height="150" fill="#f23645"/><rect x="864" y="564" width="7" height="130" fill="#f23645"/>
<rect x="877" y="674" width="1" height="79" fill="#089981"/><rect x="874" y="689" width="7" height="7" fill="#089981"/>
<rect x="887" y="658" width="1" height="58" fill="#089981"/><rect x="884" y="673" width="7" height="17" fill="#089981"/>
<rect x="897" y="640" width="1" height="70" fill="#089981"/><rect x="894" y="645" width="7" height="29" fill="#089981"/>
<rect x="907" y="617" width="1" height="58" fill="#f23645"/><rect x="904" y="644" width="7" height="20" fill="#f23645"/>
<rect x="918" y="645" width="1" height="58" fill="#f23645"/><rect x="915" y="663" width="7" height="27" fill="#f23645"/>
<rect x="928" y="671" width="1" height="123" fill="#f23645"/><rect x="925" y="690" width="7" height="93" fill="#f23645"/>
<rect x="938" y="687" width="1" height="102" fill="#089981"/><rect x="935" y="735" width="7" height="48" fill="#089981"/>
<rect x="948" y="680" width="1" height="63" fill="#089981"/><rect x="945" y="698" width="7" height="37" fill="#089981"/>
<rect x="958" y="698" width="1" height="37" fill="#f23645"/><rect x="955" y="698" width="7" height="29" fill="#f23645"/>
<rect x="968" y="648" width="1" height="96" fill="#089981"/><rect x="965" y="653" width="7" height="72" fill="#089981"/>
<rect x="979" y="624" width="1" height="64" fill="#089981"/><rect x="976" y="625" width="7" height="30" fill="#089981"/>
<rect x="989" y="596" width="1" height="89" fill="#f23645"/><rect x="986" y="625" width="7" height="50" fill="#f23645"/>
<rect x="999" y="667" width="1" height="101" fill="#f23645"/><rect x="996" y="673" width="7" height="86" fill="#f23645"/>
<rect x="1009" y="757" width="1" height="96" fill="#f23645"/><rect x="1006" y="758" width="7" height="12" fill="#f23645"/>
<rect x="1019" y="754" width="1" height="43" fill="#f23645"/><rect x="1016" y="769" width="7" height="8" fill="#f23645"/>
<rect x="1030" y="765" width="1" height="40" fill="#f23645"/><rect x="1027" y="776" width="7" height="2" fill="#f23645"/>
<rect x="1040" y="744" width="1" height="56" fill="#f23645"/><rect x="1037" y="777" width="7" height="22" fill="#f23645"/>
<rect x="1050" y="773" width="1" height="85" fill="#f23645"/><rect x="1047" y="797" width="7" height="31" fill="#f23645"/>
<rect x="1060" y="806" width="1" height="50" fill="#089981"/><rect x="1057" y="817" width="7" height="12" fill="#089981"/>
<rect x="1070" y="808" width="1" height="40" fill="#f23645"/><rect x="1067" y="819" width="7" height="11" fill="#f23645"/>
<rect x="1081" y="800" width="1" height="90" fill="#f23645"/><rect x="1078" y="829" width="7" height="34" fill="#f23645"/>
<rect x="1091" y="847" width="1" height="99" fill="#f23645"/><rect x="1088" y="862" width="7" height="47" fill="#f23645"/>
<rect x="1101" y="890" width="1" height="117" fill="#f23645"/><rect x="1098" y="908" width="7" height="35" fill="#f23645"/>
<rect x="1111" y="820" width="1" height="127" fill="#089981"/><rect x="1108" y="831" width="7" height="114" fill="#089981"/>
<rect x="1121" y="792" width="1" height="46" fill="#089981"/><rect x="1118" y="815" width="7" height="18" fill="#089981"/>
<rect x="1132" y="807" width="1" height="35" fill="#f23645"/><rect x="1129" y="815" width="7" height="11" fill="#f23645"/>
<rect x="1142" y="805" width="1" height="73" fill="#f23645"/><rect x="1139" y="827" width="7" height="46" fill="#f23645"/>
<rect x="1152" y="851" width="1" height="40" fill="#089981"/><rect x="1149" y="859" width="7" height="16" fill="#089981"/>
<rect x="1162" y="824" width="1" height="40" fill="#089981"/><rect x="1159" y="833" width="7" height="27" fill="#089981"/>
<rect x="1172" y="783" width="1" height="62" fill="#089981"/><rect x="1169" y="797" width="7" height="37" fill="#089981"/>
<rect x="1183" y="790" width="1" height="77" fill="#f23645"/><rect x="1180" y="797" width="7" height="52" fill="#f23645"/>
<rect x="1193" y="838" width="1" height="49" fill="#f23645"/><rect x="1190" y="848" width="7" height="28" fill="#f23645"/>
<rect x="1203" y="782" width="1" height="100" fill="#089981"/><rect x="1200" y="805" width="7" height="70" fill="#089981"/>
<rect x="1213" y="765" width="1" height="49" fill="#089981"/><rect x="1210" y="794" width="7" height="13" fill="#089981"/>
<rect x="1223" y="782" width="1" height="90" fill="#f23645"/><rect x="1220" y="796" width="7" height="52" fill="#f23645"/>
<rect x="1234" y="829" width="1" height="29" fill="#089981"/><rect x="1231" y="843" width="7" height="5" fill="#089981"/>
<rect x="1244" y="785" width="1" height="69" fill="#089981"/><rect x="1241" y="802" width="7" height="42" fill="#089981"/>
<rect x="1254" y="789" width="1" height="56" fill="#f23645"/><rect x="1251" y="801" width="7" height="24" fill="#f23645"/>
<rect x="1264" y="785" width="1" height="51" fill="#089981"/><rect x="1261" y="799" width="7" height="27" fill="#089981"/>
<rect x="1274" y="719" width="1" height="90" fill="#089981"/><rect x="1271" y="737" width="7" height="62" fill="#089981"/>
<rect x="1285" y="617" width="1" height="132" fill="#089981"/><rect x="1282" y="628" width="7" height="110" fill="#089981"/>
<rect x="1295" y="567" width="1" height="93" fill="#f23645"/><rect x="1292" y="628" width="7" height="6" fill="#f23645"/>
<rect x="1305" y="605" width="1" height="83" fill="#f23645"/><rect x="1302" y="633" width="7" height="12" fill="#f23645"/>
<rect x="1315" y="610" width="1" height="48" fill="#089981"/><rect x="1312" y="633" width="7" height="12" fill="#089981"/>
<rect x="1325" y="534" width="1" height="119" fill="#f23645"/><rect x="1322" y="632" width="7" height="7" fill="#f23645"/>
<rect x="1335" y="572" width="1" height="124" fill="#089981"/><rect x="1332" y="581" width="7" height="58" fill="#089981"/>
<rect x="1346" y="455" width="1" height="160" fill="#089981"/><rect x="1343" y="511" width="7" height="72" fill="#089981"/>
<rect x="1356" y="467" width="1" height="100" fill="#089981"/><rect x="1353" y="498" width="7" height="13" fill="#089981"/>
<rect x="1366" y="348" width="1" height="178" fill="#089981"/><rect x="1363" y="474" width="7" height="25" fill="#089981"/>
<rect x="1376" y="396" width="1" height="121" fill="#089981"/><rect x="1373" y="449" width="7" height="28" fill="#089981"/>
<rect x="1386" y="341" width="1" height="121" fill="#089981"/><rect x="1383" y="379" width="7" height="71" fill="#089981"/>
<rect x="1397" y="326" width="1" height="101" fill="#f23645"/><rect x="1394" y="378" width="7" height="7" fill="#f23645"/>
<rect x="1407" y="361" width="1" height="108" fill="#f23645"/><rect x="1404" y="384" width="7" height="2" fill="#f23645"/>
<rect x="1417" y="384" width="1" height="236" fill="#f23645"/><rect x="1414" y="385" width="7" height="184" fill="#f23645"/>
<rect x="1427" y="547" width="1" height="124" fill="#f23645"/><rect x="1424" y="570" width="7" height="28" fill="#f23645"/>
<rect x="1437" y="540" width="1" height="114" fill="#089981"/><rect x="1434" y="542" width="7" height="55" fill="#089981"/>
<rect x="1448" y="526" width="1" height="38" fill="#f23645"/><rect x="1445" y="542" width="7" height="15" fill="#f23645"/>
<rect x="1458" y="520" width="1" height="45" fill="#089981"/><rect x="1455" y="534" width="7" height="23" fill="#089981"/>
<rect x="1468" y="509" width="1" height="128" fill="#f23645"/><rect x="1465" y="534" width="7" height="93" fill="#f23645"/>
<rect x="1478" y="589" width="1" height="91" fill="#f23645"/><rect x="1475" y="626" width="7" height="27" fill="#f23645"/>
<rect x="1488" y="645" width="1" height="109" fill="#f23645"/><rect x="1485" y="653" width="7" height="31" fill="#f23645"/>
<rect x="1499" y="646" width="1" height="92" fill="#f23645"/><rect x="1496" y="682" width="7" height="50" fill="#f23645"/>
<rect x="1509" y="723" width="1" height="90" fill="#f23645"/><rect x="1506" y="731" width="7" height="45" fill="#f23645"/>
<rect x="1519" y="751" width="1" height="77" fill="#f23645"/><rect x="1516" y="774" width="7" height="29" fill="#f23645"/>
<rect x="1529" y="752" width="1" height="69" fill="#089981"/><rect x="1526" y="759" width="7" height="44" fill="#089981"/>
<rect x="1539" y="716" width="1" height="44" fill="#089981"/><rect x="1536" y="722" width="7" height="38" fill="#089981"/>
<rect x="1550" y="714" width="1" height="61" fill="#f23645"/><rect x="1547" y="723" width="7" height="29" fill="#f23645"/>
</g>
<path d="M10 751.5H1858" stroke="#f23645" stroke-width="1" stroke-dasharray="1 2" fill="none" shape-rendering="crispEdges"/>
<g fill="none" stroke-linejoin="round" clip-path="url(#rsi)">
<path d="M653.4 1115.3 L663.1 1103.2 L670.5 1115.3Z" fill="url(#gf)" stroke="none"/>
<path d="M1341.1 1115.3 L1346.2 1112.0 L1356.4 1110.9 L1366.6 1108.9 L1376.8 1107.2 L1387.0 1102.2 L1397.2 1103.3 L1407.4 1103.6 L1411.0 1115.3Z" fill="url(#gf)" stroke="none"/>
<path d="M10.3 1158.4 C13.8 1158.6 24.1 1159.4 31.0 1159.7 C37.9 1160.0 44.7 1160.0 51.6 1160.0 C58.5 1160.0 63.7 1160.0 72.3 1159.7 C80.9 1159.4 93.0 1158.9 103.3 1158.4 C113.6 1157.9 125.7 1157.1 134.3 1156.6 C142.9 1156.1 148.5 1156.1 154.9 1155.6 C161.3 1155.0 166.6 1154.3 173.0 1153.3 C179.4 1152.3 186.7 1150.7 193.6 1149.4 C200.5 1148.1 209.1 1146.3 214.3 1145.5 C219.5 1144.7 217.7 1144.7 224.6 1144.7 C231.5 1144.8 248.8 1145.7 255.6 1145.8 C262.4 1145.9 260.5 1145.4 265.2 1145.5 C269.9 1145.6 277.2 1146.1 284.0 1146.3 C290.8 1146.5 300.6 1146.5 306.0 1146.8 C311.4 1147.1 311.4 1147.2 316.3 1148.1 C321.2 1149.0 329.0 1151.0 335.7 1152.0 C342.4 1153.0 351.1 1153.7 356.3 1154.0 C361.5 1154.3 361.4 1154.2 366.6 1154.0 C371.8 1153.8 380.4 1153.2 387.3 1153.0 C394.2 1152.8 401.1 1152.7 408.0 1152.5 C414.9 1152.3 421.7 1152.4 428.6 1152.0 C435.5 1151.6 442.6 1151.0 449.3 1150.2 C456.1 1149.4 464.1 1148.2 469.1 1147.3 C474.1 1146.4 474.1 1145.8 479.2 1144.7 C484.3 1143.6 492.7 1142.2 499.6 1140.9 C506.5 1139.6 513.8 1138.1 520.7 1137.0 C527.7 1135.9 532.9 1135.4 541.3 1134.4 C549.7 1133.5 562.6 1131.8 571.0 1131.3 C579.4 1130.8 584.8 1131.1 591.7 1131.3 C598.6 1131.5 605.5 1131.6 612.3 1132.3 C619.1 1133.0 625.8 1134.8 632.5 1135.2 C639.2 1135.6 645.5 1135.3 652.3 1134.9 C659.0 1134.5 667.8 1133.3 673.0 1132.9 C678.2 1132.5 678.1 1132.7 683.3 1132.3 C688.5 1131.9 695.4 1130.6 704.0 1130.3 C712.6 1130.0 726.4 1130.5 735.0 1130.3 C743.6 1130.1 748.9 1129.4 755.6 1129.0 C762.3 1128.6 770.0 1128.1 775.0 1128.0 C780.0 1127.9 781.9 1128.1 785.3 1128.5 C788.7 1128.9 792.1 1129.7 795.6 1130.5 C799.1 1131.3 799.3 1132.2 806.0 1133.4 C812.7 1134.6 825.6 1136.5 835.7 1137.8 C845.8 1139.1 858.0 1140.0 866.6 1141.1 C875.2 1142.2 878.7 1143.0 887.3 1144.2 C895.9 1145.4 911.4 1147.1 918.3 1148.1 C925.2 1149.1 923.4 1149.7 928.6 1150.4 C933.8 1151.1 942.6 1151.7 949.3 1152.2 C956.0 1152.7 961.9 1153.0 968.6 1153.3 C975.3 1153.6 982.4 1153.6 989.3 1153.8 C996.2 1154.0 1003.0 1154.3 1009.9 1154.5 C1016.8 1154.7 1023.9 1154.6 1030.6 1154.8 C1037.3 1155.0 1043.3 1155.7 1050.0 1155.9 C1056.7 1156.1 1063.9 1155.6 1070.9 1155.9 C1077.9 1156.2 1085.1 1157.0 1091.8 1157.6 C1098.5 1158.1 1104.5 1158.8 1111.2 1159.2 C1117.9 1159.6 1125.1 1160.0 1132.1 1160.1 C1139.0 1160.2 1146.2 1160.1 1152.9 1159.8 C1159.6 1159.5 1165.7 1158.8 1172.4 1158.4 C1179.1 1158.0 1186.3 1157.9 1193.3 1157.3 C1200.2 1156.7 1207.4 1155.6 1214.1 1154.8 C1220.8 1154.0 1228.5 1153.1 1233.6 1152.3 C1238.7 1151.5 1239.6 1150.4 1244.7 1149.8 C1249.8 1149.2 1259.1 1148.9 1264.2 1148.4 C1269.3 1147.9 1270.2 1147.7 1275.3 1146.7 C1280.4 1145.7 1286.4 1144.0 1294.8 1142.3 C1303.2 1140.6 1315.2 1138.8 1325.4 1136.7 C1335.6 1134.7 1345.8 1132.5 1356.0 1130.0 C1366.2 1127.5 1377.9 1123.8 1386.5 1121.4 C1395.1 1119.0 1402.3 1116.5 1407.4 1115.6 C1412.5 1114.7 1413.6 1115.6 1417.1 1115.9 C1420.6 1116.2 1424.8 1116.9 1428.3 1117.3 C1431.8 1117.7 1432.9 1117.7 1438.0 1118.1 C1443.1 1118.5 1453.7 1119.3 1458.8 1119.8 C1463.9 1120.3 1463.5 1119.9 1468.6 1121.1 C1473.7 1122.2 1482.7 1124.7 1489.4 1126.7 C1496.1 1128.8 1502.2 1131.0 1508.9 1133.4 C1515.6 1135.9 1522.9 1139.0 1529.8 1141.4 C1536.7 1143.8 1546.9 1146.7 1550.3 1147.8" stroke="#fdeb5c" stroke-width="1.25"/>
<path d="M10.7 1158.4 L20.9 1162.3 L31.1 1167.5 L41.3 1168.5 L51.5 1161.8 L61.7 1158.4 L71.9 1160.5 L82.0 1152.0 L92.2 1151.2 L102.4 1148.1 L112.6 1149.9 L122.8 1153.5 L133.0 1148.6 L143.2 1148.6 L153.4 1153.3 L163.6 1149.1 L173.8 1146.8 L184.0 1139.3 L194.2 1135.7 L204.4 1131.3 L214.6 1134.4 L224.8 1145.5 L235.0 1151.2 L245.2 1153.5 L255.4 1154.5 L265.6 1149.4 L275.7 1156.6 L285.9 1153.5 L296.1 1152.5 L306.3 1151.7 L316.5 1163.1 L326.7 1161.3 L336.9 1168.2 L347.1 1149.1 L357.3 1152.2 L367.5 1145.3 L377.7 1141.1 L387.9 1146.3 L398.1 1147.1 L408.3 1150.9 L418.5 1148.6 L428.7 1149.1 L438.9 1141.6 L449.1 1140.9 L459.3 1140.6 L469.4 1140.6 L479.6 1125.1 L489.8 1125.1 L500.0 1123.0 L510.2 1119.2 L520.4 1119.4 L530.6 1132.1 L540.8 1128.7 L551.0 1134.4 L561.2 1137.5 L571.4 1133.4 L581.6 1134.4 L591.8 1142.9 L602.0 1147.3 L612.2 1147.1 L622.4 1146.0 L632.6 1145.0 L642.8 1121.8 L653.0 1115.8 L663.1 1103.2 L673.3 1120.0 L683.5 1121.8 L693.7 1117.9 L703.9 1126.1 L714.1 1135.7 L724.3 1138.3 L734.5 1142.2 L744.7 1134.4 L754.9 1138.5 L765.1 1138.5 L775.3 1136.5 L785.5 1130.0 L795.7 1142.9 L805.9 1142.4 L816.1 1141.4 L826.3 1142.2 L836.5 1141.4 L846.7 1142.9 L856.8 1148.4 L867.0 1159.2 L877.2 1158.4 L887.4 1156.4 L897.6 1152.7 L907.8 1154.5 L918.0 1157.1 L928.2 1164.9 L938.4 1158.4 L948.6 1153.3 L958.8 1155.8 L969.0 1146.3 L979.2 1142.9 L989.4 1148.6 L999.6 1155.9 L1009.8 1157.3 L1020.0 1157.9 L1030.2 1158.1 L1040.3 1160.4 L1050.5 1163.1 L1060.7 1161.5 L1070.9 1162.9 L1081.1 1165.9 L1091.3 1170.1 L1101.5 1172.9 L1111.7 1153.1 L1121.9 1150.6 L1132.1 1151.7 L1142.3 1157.3 L1152.5 1154.8 L1162.7 1150.6 L1172.9 1145.1 L1183.1 1151.7 L1193.3 1155.1 L1203.5 1144.2 L1213.7 1142.3 L1223.9 1149.5 L1234.0 1148.7 L1244.2 1142.3 L1254.4 1145.6 L1264.6 1141.4 L1274.8 1133.1 L1285.0 1122.0 L1295.2 1122.5 L1305.4 1124.8 L1315.6 1123.4 L1325.8 1124.5 L1336.0 1118.6 L1346.2 1112.0 L1356.4 1110.9 L1366.6 1108.9 L1376.8 1107.2 L1387.0 1102.2 L1397.2 1103.3 L1407.4 1103.6 L1417.6 1136.7 L1427.7 1140.6 L1437.9 1134.2 L1448.1 1136.2 L1458.3 1133.7 L1468.5 1145.6 L1478.7 1148.4 L1488.9 1152.3 L1499.1 1156.7 L1509.3 1160.9 L1519.5 1163.4 L1529.7 1156.7 L1539.9 1150.9 L1550.1 1154.2" stroke="#7e57c2" stroke-width="1.05"/>
</g>
<g font-size="12" fill="#131722" stroke="#131722" stroke-width="0.15">
<text x="1927.1" y="40.4" textLength="60.4" lengthAdjust="spacingAndGlyphs">0.00001850</text>
<text x="1927.1" y="97.8" textLength="60.4" lengthAdjust="spacingAndGlyphs">0.00001800</text>
<text x="1927.1" y="155.1" textLength="60.4" lengthAdjust="spacingAndGlyphs">0.00001750</text>
<text x="1927.1" y="212.5" textLength="60.4" lengthAdjust="spacingAndGlyphs">0.00001700</text>
<text x="1927.1" y="269.8" textLength="60.4" lengthAdjust="spacingAndGlyphs">0.00001650</text>
<text x="1927.1" y="327.2" textLength="60.4" lengthAdjust="spacingAndGlyphs">0.00001600</text>
<text x="1927.1" y="384.6" textLength="60.4" lengthAdjust="spacingAndGlyphs">0.00001550</text>
<text x="1927.1" y="441.9" textLength="60.4" lengthAdjust="spacingAndGlyphs">0.00001500</text>
<text x="1927.1" y="499.3" textLength="60.4" lengthAdjust="spacingAndGlyphs">0.00001450</text>
<text x="1927.1" y="556.6" textLength="60.4" lengthAdjust="spacingAndGlyphs">0.00001400</text>
<text x="1927.1" y="614.0" textLength="60.4" lengthAdjust="spacingAndGlyphs">0.00001350</text>
<text x="1927.1" y="671.4" textLength="60.4" lengthAdjust="spacingAndGlyphs">0.00001300</text>
<text x="1927.1" y="728.7" textLength="60.4" lengthAdjust="spacingAndGlyphs">0.00001250</text>
<text x="1927.1" y="786.1" textLength="60.4" lengthAdjust="spacingAndGlyphs">0.00001200</text>
<text x="1927.1" y="843.4" textLength="60.4" lengthAdjust="spacingAndGlyphs">0.00001150</text>
<text x="1927.1" y="900.8" textLength="60.4" lengthAdjust="spacingAndGlyphs">0.00001100</text>
<text x="1927.1" y="958.2" textLength="60.4" lengthAdjust="spacingAndGlyphs">0.00001050</text>
<text x="1927.1" y="1015.5" textLength="60.4" lengthAdjust="spacingAndGlyphs">0.00001000</text>
<text x="1927.1" y="1072.9" textLength="60.4" lengthAdjust="spacingAndGlyphs">0.00000950</text>
<text x="1927.1" y="1111.9" textLength="29.5" lengthAdjust="spacingAndGlyphs">75.00</text>
<text x="1927.1" y="1181.1" textLength="29.5" lengthAdjust="spacingAndGlyphs">25.00</text>
</g>
<rect x="1919" y="506.5" width="75" height="16.5" rx="2" fill="#000"/>
<text x="1927.1" y="519.2" font-size="12" fill="#fff" stroke="#fff" stroke-width="0.3" textLength="60.4" lengthAdjust="spacingAndGlyphs">0.00001434</text>
<rect x="1919" y="629" width="75" height="16.5" rx="2" fill="#ff9800"/>
<text x="1927.1" y="641.7" font-size="12" fill="#131722" stroke="#131722" stroke-width="0" textLength="60.4" lengthAdjust="spacingAndGlyphs">0.00001326</text>
<rect x="1919" y="653" width="75" height="16.5" rx="2" fill="#047a04"/>
<text x="1927.1" y="665.7" font-size="12" fill="#fff" stroke="#fff" stroke-width="0.3" textLength="60.4" lengthAdjust="spacingAndGlyphs">0.00001305</text>
<rect x="1919" y="699" width="75" height="16.8" rx="2" fill="#5b9cf6"/>
<text x="1927.1" y="711.7" font-size="12" fill="#131722" stroke="#131722" stroke-width="0" textLength="60.4" lengthAdjust="spacingAndGlyphs">0.00001266</text>
<rect x="1919" y="743" width="75" height="30.6" rx="2" fill="#f23645"/>
<rect x="1858" y="743" width="59.8" height="16.8" rx="2" fill="#f23645"/>
<text x="1862.1" y="755.6" font-size="12" fill="#fff" stroke="#fff" stroke-width="0.3" textLength="51.3" lengthAdjust="spacingAndGlyphs">SHIBUSDT</text>
<text x="1927.1" y="755.6" font-size="12" fill="#fff" stroke="#fff" stroke-width="0.3" textLength="60.4" lengthAdjust="spacingAndGlyphs">0.00001227</text>
<text x="1927.1" y="769.8" font-size="12" fill="#fff" fill-opacity="0.85" stroke="#fff" stroke-opacity="0.8" stroke-width="0.25" textLength="46" lengthAdjust="spacingAndGlyphs">14:08:25</text>
<rect x="1919" y="1058" width="57.7" height="16.8" rx="2" fill="#ef5350"/>
<text x="1927.1" y="1070.7" font-size="12" fill="#fff" stroke="#fff" stroke-width="0.3" textLength="44.3" lengthAdjust="spacingAndGlyphs">712.58 B</text>
<rect x="1919" y="1129" width="42.8" height="16.8" rx="2" fill="#fdeb3b"/>
<text x="1927.1" y="1141.7" font-size="12" fill="#131722" textLength="29.5" lengthAdjust="spacingAndGlyphs">45.78</text>
<rect x="1919" y="1146" width="42.8" height="16.8" rx="2" fill="#7e57c2"/>
<text x="1927.1" y="1158.7" font-size="12" fill="#fff" stroke="#fff" stroke-width="0.3" textLength="29.5" lengthAdjust="spacingAndGlyphs">41.26</text>
<g font-size="12" fill="#131722" text-anchor="middle" stroke="#131722" stroke-width="0.3">
<text x="265.5" y="1199.3">Apr</text>
<text x="571.5" y="1199.3">May</text>
<text x="887.5" y="1199.3">Jun</text>
<text x="1193.5" y="1199.3">Jul</text>
<text x="1509.5" y="1199.3">Aug</text>
<text x="1825.5" y="1199.3">Sep</text>
</g>
<text x="10.4" y="18.8" font-size="12.5" fill="#131722" stroke="#131722" stroke-width="0.2" textLength="389.6" lengthAdjust="spacingAndGlyphs">arman_shirinyan created with TradingView.com, Aug 05, 2025 09:51 UTC</text>
<g transform="translate(10.3,1219.2) scale(0.549)" fill="#131722"><path d="M14 22H7V11H0V4h14v18z"/><circle cx="20" cy="8" r="4"/><path d="M28 22h-8l7.5-18h8L28 22z"/></g>
<text x="34.2" y="1231.3" font-size="14" fill="#131722" textLength="69" lengthAdjust="spacingAndGlyphs">TradingView</text>
</svg>
</body></html>
